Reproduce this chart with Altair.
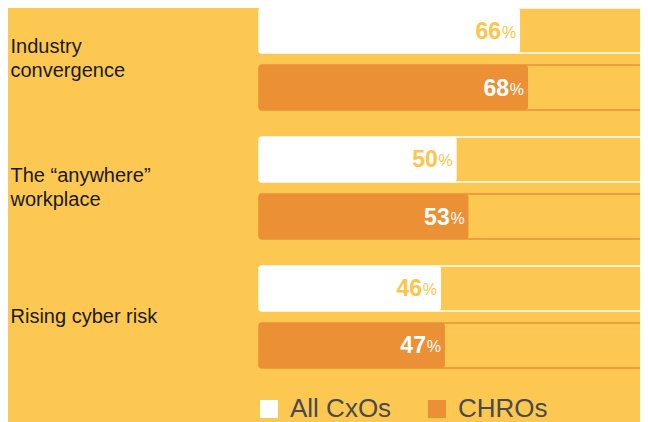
import altair as alt
import pandas as pd

categories = ["Industry|convergence", "The \u201canywhere\u201d|workplace", "Rising cyber risk"]
series = ["All CxOs", "CHROs"]
all_cxos = [66, 50, 46]
chros = [68, 53, 47]
colors = ["#FFFFFF", "#EC9035"]

rows = []
for c, a, h in zip(categories, all_cxos, chros):
    rows.append({"cat": c, "series": series[0], "value": a, "full": 100})
    rows.append({"cat": c, "series": series[1], "value": h, "full": 100})
df = pd.DataFrame(rows)

FONT = "Liberation Sans"
BG = "#FDC852"

y = alt.Y("cat:N", scale=alt.Scale(domain=categories, paddingInner=0.209, paddingOuter=0),
          axis=alt.Axis(title=None, domain=False, ticks=False, labelAlign="left",
                        labelPadding=249, labelFontSize=20, labelColor="#1a1a1a",
                        labelFont=FONT, labelLineHeight=24,
                        labelOffset={"condition": {"test": "indexof(datum.value, '|') >= 0", "value": -12}, "value": 0},
                        labelExpr="split(datum.label, '|')"))
yoff = alt.YOffset("series:N", scale=alt.Scale(domain=series, paddingInner=0.2105, paddingOuter=0))
xscale = alt.Scale(domain=[0, 96.3], nice=False, zero=True)

base = alt.Chart(df).encode(y=y, yOffset=yoff)

track = base.mark_bar(fillOpacity=0, strokeWidth=1.5, cornerRadius=3, clip=True).encode(
    x=alt.X("full:Q", scale=xscale, axis=None),
    stroke=alt.Stroke("series:N", scale=alt.Scale(domain=series, range=colors), legend=None),
)

bars = base.mark_bar(cornerRadius=3).encode(
    x=alt.X("value:Q", scale=xscale, axis=None),
    color=alt.Color("series:N", scale=alt.Scale(domain=series, range=colors),
                    legend=alt.Legend(title=None, orient="none", legendX=-3, legendY=388,
                                      direction="horizontal", symbolType="square",
                                      symbolSize=324, symbolStrokeWidth=0,
                                      labelFontSize=26, labelFont=FONT, labelColor="#4a4a4a",
                                      labelOffset=8, columnPadding=32)),
)

text_color = alt.condition(alt.datum.series == "All CxOs", alt.value("#FDC54B"), alt.value("#FFFFFF"))

nums = base.mark_text(align="right", baseline="middle", dx=-19, dy=1, fontSize=23,
                      fontWeight="bold", font=FONT).encode(
    x=alt.X("value:Q", scale=xscale, axis=None),
    text=alt.Text("value:Q"),
    color=text_color,
)

pct = base.mark_text(align="right", baseline="middle", dx=-4, dy=2, fontSize=16,
                     font=FONT).encode(
    x=alt.X("value:Q", scale=xscale, axis=None),
    text=alt.value("%"),
    color=text_color,
)

chart = alt.layer(track, bars, nums, pct).resolve_scale(color="independent").properties(
    width=381, height=360,
    autosize=alt.AutoSizeParams(type="none"),
    padding={"left": 251, "top": 0, "right": 0, "bottom": 54},
    background=BG,
).configure_view(stroke=None)

chart.save("out.html", embed_options={"renderer": "svg", "actions": False})
